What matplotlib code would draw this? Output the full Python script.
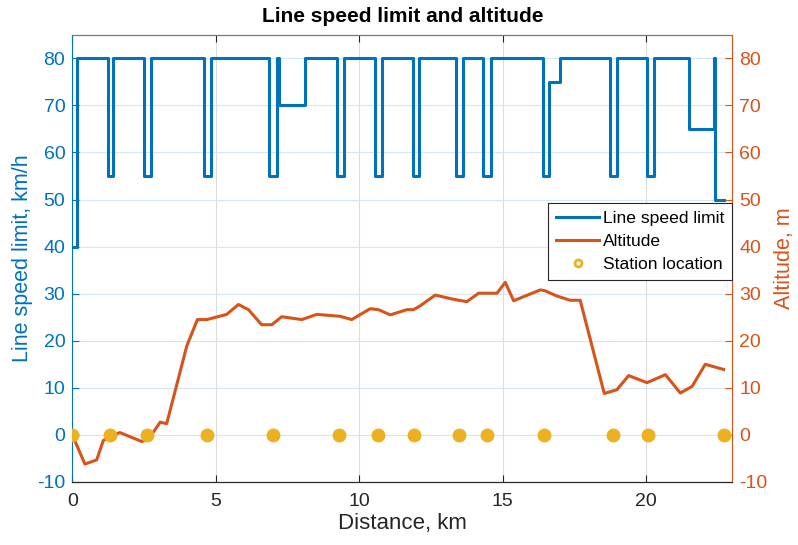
import matplotlib.pyplot as plt
from matplotlib.lines import Line2D

plt.rcParams['font.family'] = ['Liberation Sans', 'DejaVu Sans']
plt.rcParams['axes.unicode_minus'] = False

# speed limit profile (step starts, km -> km/h)
speed_km = [0, 0.17, 1.23, 1.43, 2.50, 2.73, 4.60, 4.84, 6.87, 7.13, 7.20, 8.11,
            9.22, 9.47, 10.55, 10.81, 11.86, 12.09, 13.37, 13.61, 14.33, 14.59,
            16.40, 16.63, 16.98, 18.75, 19.00, 20.03, 20.29, 21.49, 22.35, 22.40, 22.70]
speed_kmh = [40, 80, 55, 80, 55, 80, 55, 80, 55, 80, 70, 80,
             55, 80, 55, 80, 55, 80, 55, 80, 55, 80,
             55, 75, 80, 55, 80, 55, 80, 65, 80, 50, 50]

# altitude profile
alt_km = [0, 0.44, 0.85, 1.08, 1.31, 1.66, 2.42, 2.65, 3.06, 3.29, 3.99, 4.36, 4.69,
          5.38, 5.79, 6.14, 6.60, 6.95, 7.30, 8.00, 8.52, 9.33, 9.74, 10.38, 10.67,
          11.08, 11.66, 11.89, 12.12, 12.65, 13.29, 13.75, 14.16, 14.80, 15.09, 15.38,
          16.31, 16.48, 16.89, 17.35, 17.70, 18.54, 18.98, 19.39, 20.03, 20.67, 21.19,
          21.60, 22.06, 22.70]
alt_m = [0, -6.2, -5.3, -1.2, -0.3, 0.5, -1.4, -1.0, 2.7, 2.4, 18.9, 24.5, 24.5,
         25.6, 27.7, 26.6, 23.4, 23.4, 25.1, 24.5, 25.6, 25.2, 24.5, 26.8, 26.6,
         25.5, 26.6, 26.6, 27.4, 29.7, 28.8, 28.3, 30.1, 30.1, 32.4, 28.5,
         30.8, 30.6, 29.5, 28.6, 28.6, 8.8, 9.6, 12.6, 11.1, 12.8, 8.9,
         10.3, 15.0, 13.9]

# stations
station_km = [0, 1.30, 2.59, 4.71, 6.99, 9.29, 10.65, 11.91, 13.46, 14.45,
              16.45, 18.83, 20.08, 22.72]
station_alt = [0] * len(station_km)

blue = '#0072BD'
orange = '#D95319'
yellow = '#EDB120'
dark = '#262626'

fig = plt.figure(figsize=(7.98, 5.45), dpi=100)
ax = fig.add_axes([0.0906, 0.1156, 0.827, 0.8207])
ax2 = ax.twinx()

ax.plot(speed_km, speed_kmh, drawstyle='steps-post', color=blue, lw=2.2)
ax2.plot(alt_km, alt_m, color=orange, lw=2.2)
ax2.plot(station_km, station_alt, 'o', color=yellow, ms=9, mec=yellow)

for a in (ax, ax2):
    a.set_xlim(0, 23)
    a.set_ylim(-10, 85)
    a.set_yticks(range(-10, 81, 10))
ax.set_xticks([0, 5, 10, 15, 20])

ax.grid(True, axis='x', color='#dcdcdc', lw=0.8)
ax.grid(True, axis='y', color='#d6e6f3', lw=0.8)
ax.set_axisbelow(True)

ax.tick_params(axis='x', direction='in', colors=dark, labelsize=14, length=5, top=True, pad=8)
ax.tick_params(axis='y', direction='in', colors=blue, labelsize=14, length=5, pad=5)
ax2.tick_params(axis='y', direction='in', colors=orange, labelsize=14, length=5, pad=5)

ax.spines['left'].set_color(blue)
ax.spines['right'].set_visible(False)
ax2.spines['left'].set_visible(False)
ax2.spines['right'].set_color(orange)
for a in (ax, ax2):
    a.spines['top'].set_color('#777777')
    a.spines['bottom'].set_color(dark)

ax.set_xlabel('Distance, km', fontsize=16, color=dark, labelpad=2)
ax.set_ylabel('Line speed limit, km/h', fontsize=15.5, color=blue, labelpad=3)
ax2.set_ylabel('Altitude, m', fontsize=15.5, color=orange, labelpad=5)
ax.set_title('Line speed limit and altitude', fontsize=15, fontweight='bold', color='black', pad=9)

handles = [
    Line2D([], [], color=blue, lw=2.2),
    Line2D([], [], color=orange, lw=2.2),
    Line2D([], [], ls='none', marker='o', ms=5, mfc='white', mec=yellow, mew=2),
]
leg = ax2.legend(handles, ['Line speed limit', 'Altitude', 'Station location'],
                 loc='upper right', bbox_to_anchor=(1.0, 0.624), borderaxespad=0,
                 fontsize=12.6, fancybox=False, framealpha=1, edgecolor=dark,
                 handlelength=2.5, handletextpad=0.2, labelspacing=0.45, borderpad=0.45)
leg.get_frame().set_linewidth(0.8)

fig.savefig('out.png', dpi=100)
